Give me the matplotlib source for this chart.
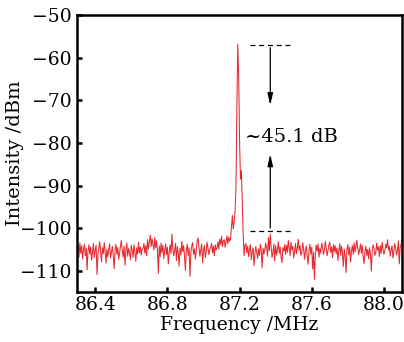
import numpy as np
import matplotlib
matplotlib.use('Agg')
import matplotlib.pyplot as plt

# spectrum trace, 5 kHz steps starting at 86.300 MHz
noiseLeft = [
    -108.5, -104.2, -106.8, -103.5, -105.9, -104.1, -107.2, -105.0, -103.8, -106.5,
    -104.7, -109.8, -105.3, -103.9, -106.1, -104.4, -107.5, -105.8, -103.6, -106.9,
    -105.2, -104.0, -110.9, -106.3, -104.8, -103.2, -105.7, -107.9, -104.6, -106.0,
    -103.4, -105.5, -108.2, -104.9, -106.7, -105.1, -103.7, -107.0, -105.6, -104.3,
    -106.4, -109.5, -105.0, -103.8, -106.2, -104.5, -107.3, -105.9, -104.1, -102.9,
    -105.4, -106.8, -104.2, -108.7, -105.3, -103.5, -106.6, -104.8, -105.7, -107.4,
    -104.0, -105.2, -106.9, -103.9, -105.5, -107.8, -104.6, -106.1, -103.3, -105.8,
    -104.4, -106.3, -105.0, -104.7, -103.6, -105.9, -104.1, -106.5, -102.7, -104.9,
    -103.2, -101.6, -104.3, -102.5, -103.8, -105.1, -102.2, -104.6, -103.0, -105.4,
    -110.6, -104.2, -106.7, -103.5, -105.8, -104.0, -107.1, -105.3, -103.7, -106.2,
    -104.5, -108.4, -105.6, -103.9, -106.0, -101.4, -104.8, -106.5, -105.2, -103.6,
    -107.6, -104.3, -105.9, -108.9, -104.7, -106.3, -103.1, -105.5, -104.1, -106.8,
    -109.9, -105.0, -103.8, -106.4, -104.6, -111.3, -105.7, -104.2, -103.4, -106.1,
    -104.9, -107.3, -105.3, -103.0, -102.3, -104.5, -106.6, -105.1, -103.7, -108.1,
    -105.4, -104.0, -106.9, -105.6, -103.3, -104.8, -106.2, -105.0, -104.4, -103.6,
    -105.8, -104.2, -106.5, -103.9, -105.1, -104.6, -103.2, -104.9, -102.6, -103.8,
    -101.9, -104.3, -103.0, -102.7, -104.5, -103.4, -101.8, -103.6, -102.1, -103.1,
]

peak = [-102.5, -99.8, -97.0, -100.2, -98.5, -96.0, -90.5, -72.0, -56.8,
        -64.0, -79.5, -88.5, -86.5, -94.0, -101.5, -106.5, -104.0]

noiseRight = [
    -103.6, -105.8, -104.2, -106.7, -105.1, -103.9, -107.4, -105.5, -104.6, -108.8,
    -106.0, -104.3, -105.7, -107.1, -104.9, -106.4, -103.8, -105.2, -109.3, -104.7,
    -106.1, -105.0, -103.5, -104.8, -106.6, -102.2, -105.3, -101.4, -104.5, -106.9,
    -105.6, -103.7, -107.7, -104.1, -106.3, -105.0, -103.2, -105.9, -104.4, -106.8,
    -108.1, -104.6, -105.4, -103.9, -106.2, -104.0, -105.7, -102.9, -104.8, -106.5,
    -103.3, -105.1, -104.3, -107.0, -105.5, -103.6, -106.0, -104.7, -102.6, -105.2,
    -104.1, -106.4, -105.8, -103.4, -104.9, -107.3, -105.3, -104.2, -106.7, -108.5,
    -105.0, -103.8, -106.1, -104.5, -109.6, -105.6, -112.0, -106.3, -104.0, -105.4,
    -103.7, -106.8, -104.8, -105.9, -103.5, -104.3, -106.2, -105.1, -103.1, -104.6,
    -106.5, -105.2, -104.0, -103.3, -105.7, -104.4, -106.9, -103.9, -105.5, -104.1,
    -106.0, -104.7, -107.6, -105.3, -103.6, -106.4, -104.2, -105.8, -109.0, -104.9,
    -106.6, -110.4, -105.0, -103.8, -106.3, -104.5, -107.9, -105.4, -104.1, -106.1,
    -103.4, -105.6, -104.3, -102.8, -104.7, -106.2, -105.1, -103.7, -105.9, -104.0,
    -106.8, -108.3, -105.5, -104.2, -106.5, -105.0, -107.2, -104.6, -106.0, -110.1,
    -105.3, -103.9, -104.8, -106.4, -105.7, -103.5, -105.2, -104.4, -106.7, -104.1,
    -105.9, -103.3, -104.9, -106.1, -105.4, -103.8, -104.6, -102.7, -105.1, -104.3,
    -106.6, -105.0, -104.2, -107.0, -105.6, -103.6, -104.7, -106.3, -105.2, -103.0,
    -108.4, -104.5, -103.9, -102.9,
]

startFreq = 86.3
stepFreq = 0.005

peakLevel = -57.0
floorLevel = -100.6
xTicks = [86.4, 86.8, 87.2, 87.6, 88.0]
yTicks = [-110, -100, -90, -80, -70, -60, -50]


def main():
    intensity = np.array(noiseLeft + peak + noiseRight)
    freq = startFreq + stepFreq * np.arange(len(intensity))

    plt.rcParams['font.family'] = 'DejaVu Serif'

    fig = plt.figure(figsize=(4.04, 3.42), dpi=100)
    ax = fig.add_axes([0.191, 0.146, 0.804, 0.810])

    ax.plot(freq, intensity, color='#e52a31', lw=0.75)

    # dashed reference levels
    ax.plot([87.26, 87.48], [peakLevel, peakLevel], color='black', lw=0.9, ls=(0, (4, 3)))
    ax.plot([87.26, 87.48], [floorLevel, floorLevel], color='black', lw=0.9, ls=(0, (4, 3)))

    # arrows
    ax.annotate('', xy=(87.37, -71.8), xytext=(87.37, peakLevel),
                arrowprops=dict(arrowstyle='-|>,head_length=0.7,head_width=0.16', color='black', lw=0.9))
    ax.annotate('', xy=(87.37, -82.0), xytext=(87.37, floorLevel),
                arrowprops=dict(arrowstyle='-|>,head_length=0.7,head_width=0.16', color='black', lw=0.9))
    ax.text(87.232, -78.6, '~45.1 dB', fontsize=14, va='center', ha='left')

    ax.set_xlim(86.3, 88.1)
    ax.set_ylim(-115, -50)
    ax.set_xticks(xTicks)
    ax.set_xticklabels(['%.1f' % t for t in xTicks])
    ax.set_yticks(yTicks)
    ax.set_yticklabels(['\u2212%d' % abs(t) for t in yTicks])

    for s in ax.spines.values():
        s.set_linewidth(1.8)
    ax.tick_params(direction='in', length=3.5, width=1.8, labelsize=13.5)
    ax.tick_params(axis='x', pad=3)
    ax.tick_params(axis='y', pad=4)

    ax.set_xlabel('Frequency /MHz', fontsize=13.5)
    ax.set_ylabel('Intensity /dBm', fontsize=14)
    ax.xaxis.set_label_coords(0.5, -0.085)
    ax.yaxis.set_label_coords(-0.165, 0.5)

    fig.savefig('out.png', dpi=100)


if __name__ == "__main__":
    main()
